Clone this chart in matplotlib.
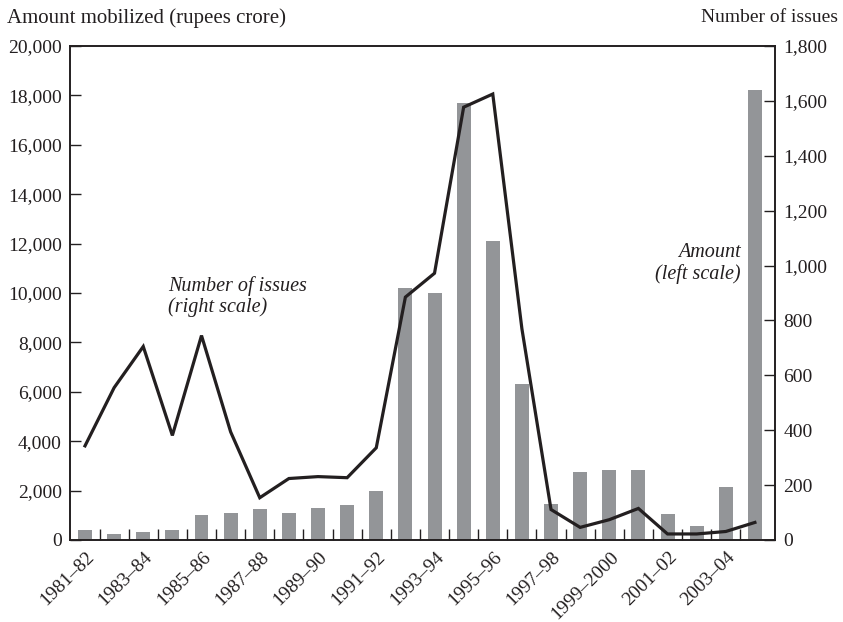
import numpy as np
import matplotlib
matplotlib.use('Agg')
import matplotlib.pyplot as plt
import matplotlib.transforms as mtransforms
from matplotlib.ticker import FuncFormatter

plt.rcParams['font.family'] = ['Liberation Serif', 'DejaVu Serif']

# 数据
years = ['1981–82', '1982–83', '1983–84', '1984–85', '1985–86', '1986–87',
         '1987–88', '1988–89', '1989–90', '1990–91', '1991–92', '1992–93',
         '1993–94', '1994–95', '1995–96', '1996–97', '1997–98', '1998–99',
         '1999–2000', '2000–01', '2001–02', '2002–03', '2003–04', '2004–05']
# 募集金额（左轴，卢比 crore）
amount = [420, 250, 330, 420, 1000, 1100, 1240, 1080, 1280, 1420, 2000, 10200,
          9980, 17700, 12100, 6300, 1450, 2750, 2850, 2850, 1040, 560, 2150, 18200]
# 发行数量（右轴）
issues = [343, 555, 705, 381, 745, 394, 154, 224, 231, 227, 336, 885,
          972, 1577, 1625, 770, 111, 46, 74, 115, 22, 22, 31, 64]

bar_color = '#939598'
ink = '#231f20'

fig = plt.figure(figsize=(8.43, 6.22), dpi=100)
ax = fig.add_axes([70 / 843, 82 / 622, 705 / 843, 494 / 622])
ax2 = ax.twinx()

x = np.arange(len(years))
ax.bar(x, amount, width=0.48, color=bar_color, zorder=2)
ax2.plot(x, issues, color=ink, lw=2.3, solid_joinstyle='miter', zorder=3)

ax.set_xlim(-0.515, 23.69)
ax.set_ylim(0, 20000)
ax2.set_ylim(0, 1800)

ax.set_yticks(np.arange(0, 20001, 2000))
ax.yaxis.set_major_formatter(FuncFormatter(lambda v, p: f'{int(v):,}'))
ax2.set_yticks(np.arange(0, 1801, 200))
ax2.yaxis.set_major_formatter(FuncFormatter(lambda v, p: f'{int(v):,}'))

# 刻度线在类别之间，标签每隔一年
ax.set_xticks(np.arange(0.5, 23, 1))
ax.set_xticklabels([])
ax.set_xticks(x[::2], minor=True)
ax.set_xticklabels(years[::2], minor=True, rotation=45, ha='right',
                   rotation_mode='anchor', fontsize=14, color=ink)
ax.tick_params(axis='x', which='minor', length=0, pad=6)
offset = mtransforms.ScaledTranslation(0.5 / 100, 0, fig.dpi_scale_trans)
for lab in ax.get_xticklabels(minor=True):
    lab.set_transform(lab.get_transform() + offset)

ax.tick_params(axis='x', which='major', direction='in', length=8, width=1, color=ink)
ax.tick_params(axis='y', direction='in', length=8, width=1, color=ink,
               labelsize=14, labelcolor=ink, pad=6)
ax2.tick_params(axis='y', direction='in', length=8, width=1, color=ink,
                labelsize=14, labelcolor=ink, pad=6)

for a in (ax, ax2):
    for s in a.spines.values():
        s.set_color(ink)
        s.set_linewidth(1.2)

fig.text(7 / 843, 1 - 18 / 622, 'Amount mobilized (rupees crore)', fontsize=15,
         color=ink, ha='left', va='center')
fig.text(838 / 843, 1 - 18 / 622, 'Number of issues', fontsize=14,
         color=ink, ha='right', va='center')

ax.text(2.85, 9850, 'Number of issues\n(right scale)', fontsize=14.5, style='italic',
        color=ink, ha='left', va='center', linespacing=1.1)
ax.text(22.52, 11200, 'Amount\n(left scale)', fontsize=14.5, style='italic',
        color=ink, ha='right', va='center', linespacing=1.1)

fig.savefig('out.png', dpi=100)
